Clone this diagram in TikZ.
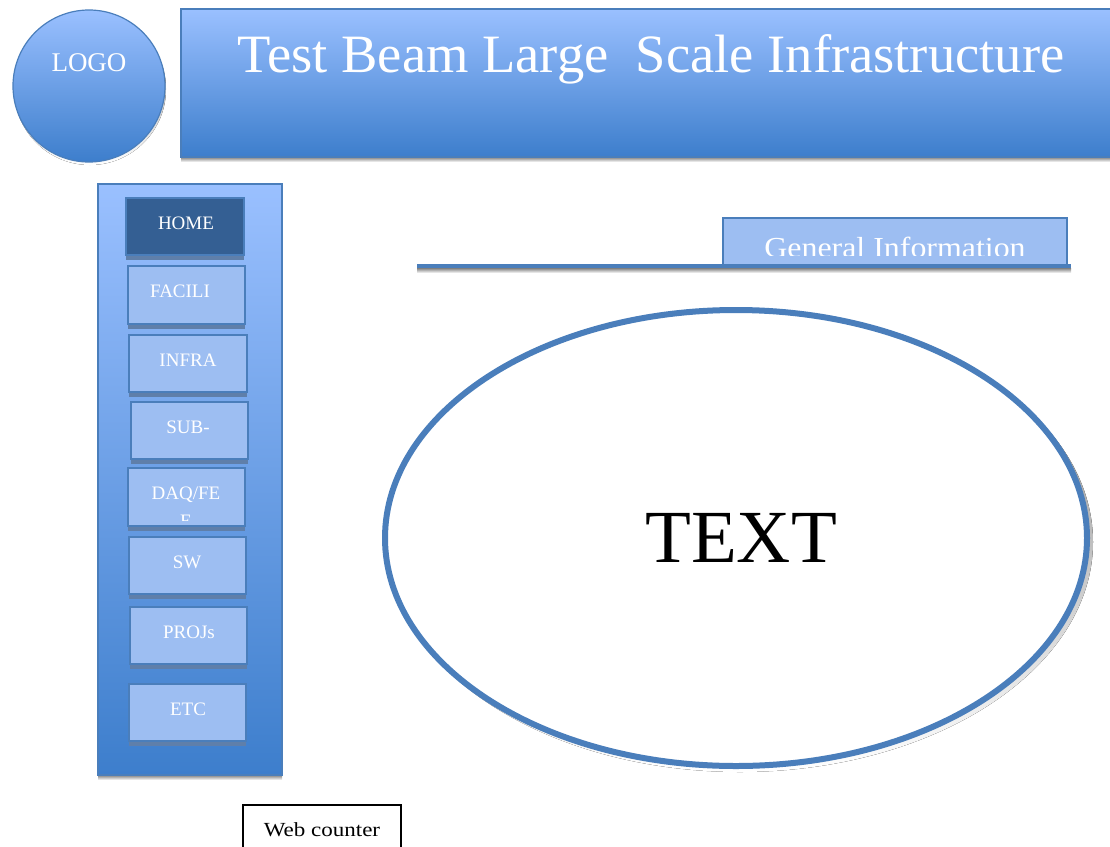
\documentclass[tikz,border=0pt]{standalone}
\usepackage{fontspec}
\setmainfont{Liberation Serif}
\usetikzlibrary{shapes.geometric}
\definecolor{edgeblue}{HTML}{4A7EBB}
\definecolor{topblue}{HTML}{9AC0FF}
\definecolor{botblue}{HTML}{3D7ECC}
\definecolor{btnfill}{HTML}{9DBEF2}
\definecolor{homefill}{HTML}{345F93}
\definecolor{btnshadow}{HTML}{5F7FAA}
\definecolor{shade}{HTML}{CFCFCF}
\tikzset{
  gradbox/.style={top color=topblue, bottom color=botblue, draw=edgeblue, line width=1.2pt},
  navbtn/.style={fill=btnfill, draw=edgeblue, line width=1.5pt},
  navlabel/.style={text=white, font=\fontsize{19}{22}\selectfont, anchor=base, inner sep=0pt},
  shadowfill/.style={fill=shade, draw=none},
}
\newcommand{\navbutton}[6]{%
  % #1 name, #2 x0, #3 y0, #4 x1, #5 y1, #6 fill
  \fill[btnshadow] (#2,#5) rectangle (#4,#5+5);
  \draw[navbtn, fill=#6] (#2,#3) rectangle (#4,#5);
  \coordinate (#1) at ({(#2+#4)/2},{(#3+#5)/2});
}
\begin{document}
\begin{tikzpicture}[x=1pt,y=-1pt]
\useasboundingbox (0,0) rectangle (1110,846);

% logo disc
\fill[shade] (90,89) circle (76);
\draw[gradbox] (89,86) circle (76);
\node[text=white, font=\fontsize{27}{30}\selectfont, anchor=base, inner sep=0pt] (logo) at (89,71) {LOGO};

% title banner
\fill[shade] (181,157) rectangle (1110,162);
\draw[gradbox] (1112,9) -- (181,9) -- (181,157) -- (1112,157);
\node[text=white, font=\fontsize{54}{60}\selectfont, anchor=base, inner sep=0pt] (title) at (651,72) {\scalebox{1.01}[1]{Test Beam Large\ \ Scale Infrastructure}};

% navigation column
\fill[shade] (98,775) rectangle (282,780);
\draw[gradbox] (98,184) rectangle (282,775);

\navbutton{bhome}{126}{198}{244}{255}{homefill}
\navbutton{bfac}{128}{266}{245}{324}{btnfill}
\navbutton{binfra}{129}{335}{247}{392}{btnfill}
\navbutton{bsub}{131}{402}{248}{459}{btnfill}
\navbutton{bdaq}{128}{468}{245}{526}{btnfill}
\navbutton{bsw}{129}{537}{246}{594}{btnfill}
\navbutton{bproj}{130}{607}{247}{664}{btnfill}
\navbutton{betc}{129}{684}{246}{741}{btnfill}

\node[navlabel] (lhome) at (186,229) {HOME};
\node[navlabel] (lfac) at (180,297) {FACILI};
\node[navlabel] (linfra) at (188,366) {INFRA};
\node[navlabel] (lsub) at (188,433) {SUB-};
\begin{scope}
  \clip (128,468) rectangle (245,520);
  \node[navlabel] (ldaq) at (186,499) {DAQ/FE};
  \node[navlabel] (ldaqb) at (186,527) {E};
\end{scope}
\node[navlabel] (lsw) at (187,568) {SW};
\node[navlabel] (lproj) at (189,638) {PROJs};
\node[navlabel] (letc) at (188,715) {ETC};

% section heading tab and rule
\fill[shade] (417,268) rectangle (1071,273);
\draw[navbtn] (723,266) -- (723,218) -- (1067,218) -- (1067,266);
\begin{scope}
  \clip (723,218) rectangle (1067,255);
  \node[text=white, font=\fontsize{29}{32}\selectfont, anchor=base, inner sep=0pt] (info) at (895,257) {\scalebox{1.1}[1]{General Information}};
\end{scope}
\draw[edgeblue, line width=4pt] (417,266) -- (1071,266);

% main content ellipse
\fill[shade] (740,542) ellipse (353 and 230);
\draw[edgeblue, fill=white, line width=6pt] (736,538) ellipse (351 and 228);
\node[font=\fontsize{75}{80}\selectfont, anchor=base, inner sep=0pt] (text) at (741,562) {TEXT};

% counter box
\draw[black, line width=1.3pt] (243,848) -- (243,805) -- (401,805) -- (401,848);
\node[font=\fontsize{20}{22}\selectfont, anchor=base, inner sep=0pt] (counter) at (322,836) {\scalebox{1.15}[1]{Web counter}};
\end{tikzpicture}
\end{document}
